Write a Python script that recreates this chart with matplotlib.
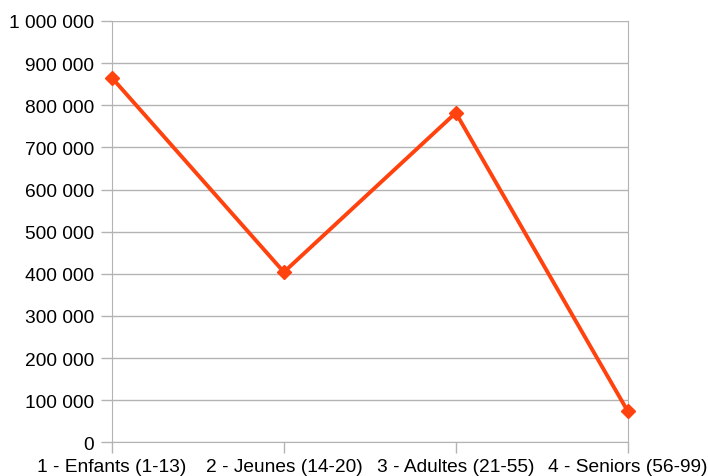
import numpy as np
import matplotlib.pyplot as plt
from matplotlib.ticker import FuncFormatter

categories = ["1 - Enfants (1-13)", "2 - Jeunes (14-20)", "3 - Adultes (21-55)", "4 - Seniors (56-99)"]
values = [865000, 404000, 782000, 74000]

plt.rcParams['font.family'] = ['Liberation Sans', 'DejaVu Sans']

fig = plt.figure(figsize=(7.08, 4.77), dpi=100)
ax = fig.add_axes([112 / 708, 1 - 443.3 / 477, (627.7 - 112) / 708, (443.3 - 22) / 477])

x = np.arange(len(categories))
ax.plot(x, values, color='#ff420e', linewidth=2.8, marker='D', markersize=7.5, clip_on=False, zorder=3)

ax.set_xlim(0, len(categories) - 1)
ax.set_ylim(0, 1000000)
ax.set_yticks(np.arange(0, 1000001, 100000))
ax.yaxis.set_major_formatter(FuncFormatter(lambda v, p: f"{int(v):,}".replace(",", " ")))
ax.set_xticks(x)
ax.set_xticklabels(categories)

ax.grid(axis='y', color='#b3b3b3', linewidth=1)
ax.set_axisbelow(True)
for s in ['left', 'bottom', 'right']:
    ax.spines[s].set_color('#b3b3b3')
ax.spines['top'].set_visible(False)
ax.tick_params(axis='both', colors='#b3b3b3', labelcolor='#000000', labelsize=13.8, length=8, width=1)
ax.tick_params(axis='x', pad=3)
ax.tick_params(axis='y', pad=5)

fig.savefig("out.png", dpi=100)
